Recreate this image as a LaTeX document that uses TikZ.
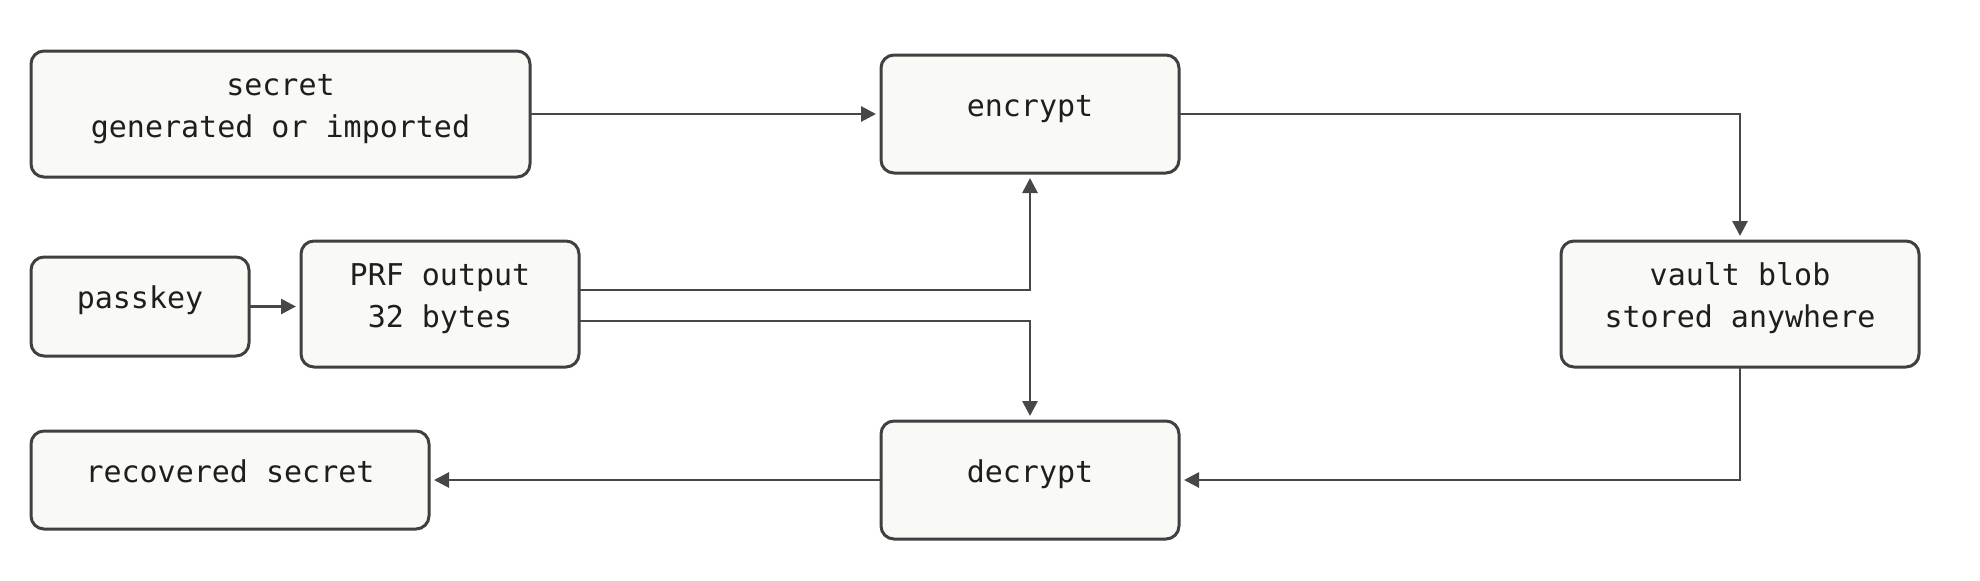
\documentclass[tikz,border=0pt]{standalone}
\usepackage{fontspec}
\newfontfamily\diagmono{DejaVu Sans Mono}
\usetikzlibrary{arrows.meta}
\definecolor{boxfill}{HTML}{F9F9F6}
\definecolor{boxline}{HTML}{404040}
\definecolor{wire}{HTML}{474747}
\definecolor{inkc}{HTML}{1E1E1E}
\begin{document}
\begin{tikzpicture}[x=1pt,y=1pt,
  box/.style={draw=boxline, fill=boxfill, line width=1.5pt, rounded corners=6.5pt, inner sep=0pt, outer sep=0pt},
  txt/.style={font=\diagmono\fontsize{15pt}{21pt}\selectfont, text=inkc, inner sep=0pt, anchor=base},
  wireline/.style={draw=wire, line width=1.4pt, -{Triangle[length=7.5pt,width=7.5pt]}, shorten >=2.5pt}]
\useasboundingbox (0,0) rectangle (990,-290);
% boxes
\node[box, minimum width=249.5pt, minimum height=63pt] (secret) at (140.25,-57) {};
\node[box, minimum width=149pt, minimum height=59pt] (encrypt) at (515,-57) {};
\node[box, minimum width=109pt, minimum height=49.5pt] (passkey) at (70,-153.25) {};
\node[box, minimum width=139pt, minimum height=63pt] (prf) at (220,-152) {};
\node[box, minimum width=179pt, minimum height=63pt] (vault) at (870,-152) {};
\node[box, minimum width=199pt, minimum height=49pt] (recovered) at (115,-240) {};
\node[box, minimum width=149pt, minimum height=59pt] (decrypt) at (515,-240) {};
% texts
\node[txt] (secret1) at ([yshift=9.5pt]secret.center) {secret};
\node[txt] (secret2) at ([yshift=-11.5pt]secret.center) {generated or imported};
\node[txt] (encrypt1) at ([yshift=-1pt]encrypt.center) {encrypt};
\node[txt] (passkey1) at ([yshift=-1pt]passkey.center) {passkey};
\node[txt] (prf1) at ([yshift=9.5pt]prf.center) {PRF output};
\node[txt] (prf2) at ([yshift=-11.5pt]prf.center) {32 bytes};
\node[txt] (vault1) at ([yshift=9.5pt]vault.center) {vault blob};
\node[txt] (vault2) at ([yshift=-11.5pt]vault.center) {stored anywhere};
\node[txt] (recovered1) at ([yshift=-1pt]recovered.center) {recovered secret};
\node[txt] (decrypt1) at ([yshift=-1pt]decrypt.center) {decrypt};
% connectors
\draw[wireline] (secret.east) -- (encrypt.west);
\draw[wireline] (encrypt.east) -| (vault.north);
\draw[wireline] (passkey.east) -- (prf.west |- passkey.east);
\draw[wireline] ([yshift=7pt]prf.east) -| (encrypt.south);
\draw[wireline] ([yshift=-8.5pt]prf.east) -| (decrypt.north);
\draw[wireline] (vault.south) |- (decrypt.east);
\draw[wireline] (decrypt.west) -- (recovered.east);
\end{tikzpicture}
\end{document}
